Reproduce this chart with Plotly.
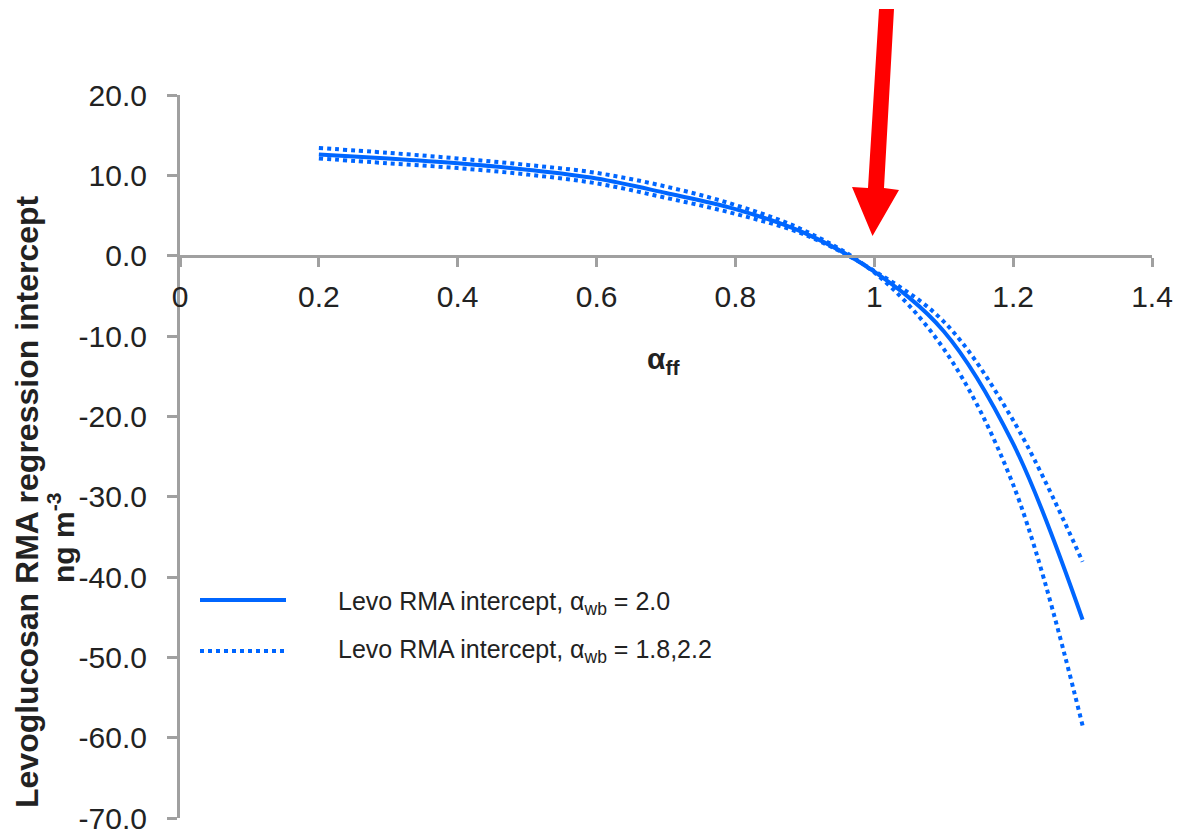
import plotly.graph_objects as go

# ---------------- data ----------------
alpha_ff = [0.2, 0.3, 0.4, 0.5, 0.6, 0.7, 0.8, 0.9, 1.0, 1.1, 1.2, 1.3]
levo_wb_2_0 = [12.6, 12.1, 11.5, 10.7, 9.6, 7.8, 5.8, 2.8, -2.0, -9.4, -23.4, -45.3]
levo_wb_a = [13.4, 12.8, 12.1, 11.3, 10.3, 8.6, 6.3, 3.1, -2.1, -11.6, -28.5, -58.5]
levo_wb_b = [12.1, 11.5, 10.9, 10.1, 9.0, 7.2, 5.2, 2.6, -1.9, -8.2, -20.5, -38.1]

x_ticks = [0, 0.2, 0.4, 0.6, 0.8, 1.0, 1.2, 1.4]
x_tick_labels = ["0", "0.2", "0.4", "0.6", "0.8", "1", "1.2", "1.4"]
y_ticks = [20, 10, 0, -10, -20, -30, -40, -50, -60, -70]
y_tick_labels = [f"{v:.1f}" for v in y_ticks]

legend_labels = ["Levo RMA intercept, α<sub>wb</sub> = 2.0",
                 "Levo RMA intercept, α<sub>wb</sub> = 1.8,2.2"]

# ---------------- layout helpers ----------------
OFF = 8  # default page body margin
W_PX, H_PX = 1183, 838
# plot area in page pixels
L, R, T, B = 180, 1152, 95, 818
PW, PH = R - L, B - T


def px(x):
    return (x - L) / PW


def py(y):
    return (B - y) / PH


BLUE = "rgb(0,102,255)"
GRAY = "rgb(160,160,160)"
TXT = "#222222"
FONT = "Liberation Sans, Arial, sans-serif"

fig = go.Figure()
fig.add_trace(go.Scatter(x=alpha_ff, y=levo_wb_2_0, mode="lines",
                         line=dict(color=BLUE, width=4, shape="spline"),
                         showlegend=False))
fig.add_trace(go.Scatter(x=alpha_ff, y=levo_wb_a, mode="lines",
                         line=dict(color=BLUE, width=4, dash="4px,4px", shape="spline"),
                         showlegend=False))
fig.add_trace(go.Scatter(x=alpha_ff, y=levo_wb_b, mode="lines",
                         line=dict(color=BLUE, width=4, dash="4px,4px", shape="spline"),
                         showlegend=False))

y_min, y_max = -70, 20
fig.update_layout(
    width=W_PX, height=H_PX,
    margin=dict(l=L - OFF, r=W_PX - (R - OFF), t=T - OFF, b=H_PX - (B - OFF)),
    paper_bgcolor="white", plot_bgcolor="white",
    font=dict(family=FONT, color=TXT, size=30),
    showlegend=False,
    xaxis=dict(range=[0, 1.4], tickvals=x_ticks, ticktext=x_tick_labels,
               showline=True, linecolor=GRAY, linewidth=3,
               ticks="outside", ticklen=9, tickwidth=3, tickcolor=GRAY,
               ticklabelstandoff=4,
               showgrid=False, zeroline=False,
               anchor="free", position=(0 - y_min) / (y_max - y_min),
               tickfont=dict(size=30, color=TXT)),
    yaxis=dict(range=[y_min, y_max], tickvals=y_ticks, ticktext=y_tick_labels,
               showline=True, linecolor=GRAY, linewidth=3,
               ticks="outside", ticklen=10, tickwidth=3, tickcolor=GRAY,
               ticklabelstandoff=14, ticklabeloverflow="allow",
               showgrid=False, zeroline=False,
               tickfont=dict(size=30, color=TXT)),
)

annotations = [
    dict(x=px(663), y=py(360), xref="paper", yref="paper", showarrow=False,
         text="<b>α<sub>ff</sub></b>", font=dict(size=30, color=TXT),
         xanchor="center", yanchor="middle"),
    dict(x=px(27), y=py(502), xref="paper", yref="paper", showarrow=False,
         text="<b>Levoglucosan RMA regression intercept</b>", textangle=-90,
         font=dict(size=32, color=TXT), xanchor="center", yanchor="middle"),
    dict(x=px(61), y=py(538), xref="paper", yref="paper", showarrow=False,
         text="<b>ng m<sup>-3</sup></b>", textangle=-90,
         font=dict(size=30, color=TXT), xanchor="center", yanchor="middle"),
    dict(x=px(336), y=py(603), xref="paper", yref="paper", showarrow=False,
         text=legend_labels[0], font=dict(size=25, color=TXT),
         xanchor="left", yanchor="middle"),
    dict(x=px(336), y=py(651), xref="paper", yref="paper", showarrow=False,
         text=legend_labels[1], font=dict(size=25, color=TXT),
         xanchor="left", yanchor="middle"),
]
fig.update_layout(annotations=annotations)

arrow_pts = [(879, 9), (894, 9), (884, 188), (899, 190), (872.5, 236),
             (852, 187), (868, 188)]
path = "M " + " L ".join(f"{px(a):.5f},{py(b):.5f}" for a, b in arrow_pts) + " Z"

shapes = [
    dict(type="line", xref="paper", yref="paper", x0=px(200), x1=px(286),
         y0=py(600), y1=py(600), line=dict(color=BLUE, width=4)),
    dict(type="line", xref="paper", yref="paper", x0=px(200), x1=px(288),
         y0=py(651), y1=py(651), line=dict(color=BLUE, width=4, dash="4px,4px")),
    dict(type="path", xref="paper", yref="paper", path=path,
         fillcolor="rgb(255,0,0)", line=dict(width=0)),
]
fig.update_layout(shapes=shapes)

fig.write_html("out.html", config={"displayModeBar": False})
